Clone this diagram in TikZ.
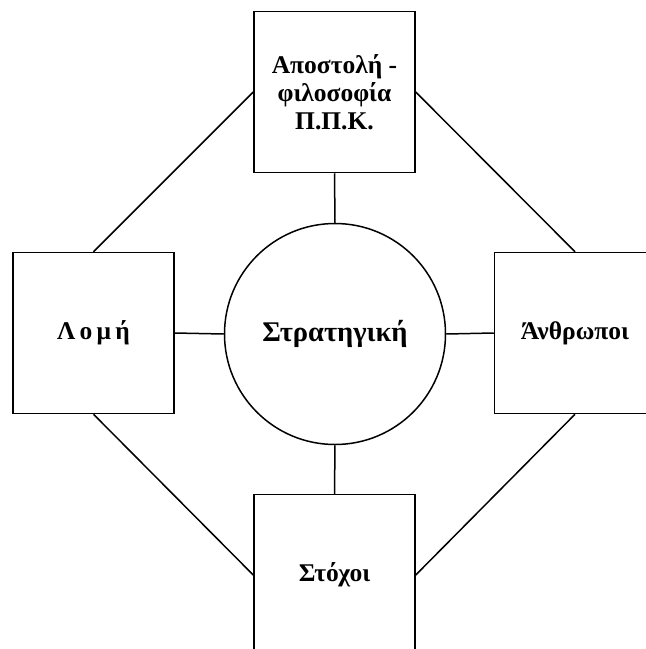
\documentclass[tikz,border=0pt]{standalone}
\usepackage{fontspec}
\setmainfont{Liberation Serif}
\begin{document}
\begin{tikzpicture}[x=1pt, y=-1pt, line width=1.5pt,
		box/.style={draw, rectangle, inner sep=0pt, minimum size=161pt, font=\fontsize{25.5}{28}\selectfont\bfseries, align=center},
		hub/.style={draw, circle, inner sep=0pt, minimum size=221pt, font=\fontsize{28.5}{32}\selectfont\bfseries}]
		\clip (0, 0) rectangle (646, 649);

		\node[box] (mission) at (334.5, 92) {Αποστολή -\\φιλοσοφία\\Π.Π.Κ.};
		\node[box] (structure) at (93.5, 333) {Λ\,ο\,μ\,ή};
		\node[box] (people) at (575, 333) {Άνθρωποι};
		\node[box] (goals) at (334.5, 575) {Στόχοι};
		\node[hub] (strategy) at (335, 334) {Στρατηγική};

		\draw[color=black] (mission.south) -- (strategy.north);
		\draw[color=black] (structure.east) -- (strategy.west);
		\draw[color=black] (people.west) -- (strategy.east);
		\draw[color=black] (goals.north) -- (strategy.south);

		\draw[color=black] (mission.west) -- (structure.north);
		\draw[color=black] (mission.east) -- (people.north);
		\draw[color=black] (goals.west) -- (structure.south);
		\draw[color=black] (goals.east) -- (people.south);
	\end{tikzpicture}
\end{document}
